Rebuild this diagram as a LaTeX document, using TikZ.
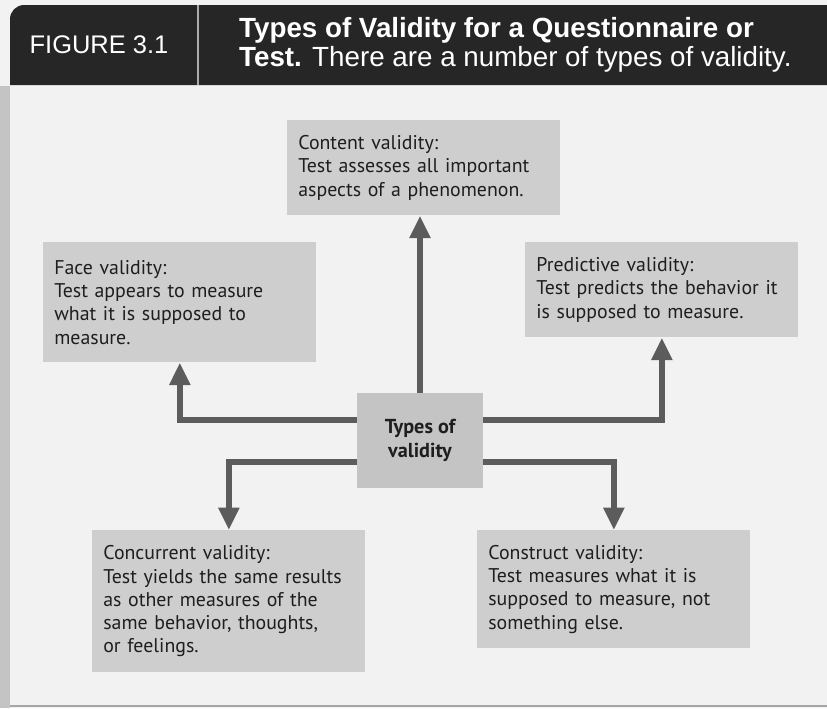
\documentclass[tikz,border=0pt]{standalone}
\usepackage{fontspec}
\setmainfont{PT Sans}
\newfontfamily\headfont{Liberation Sans}
\usetikzlibrary{positioning,arrows.meta}
\definecolor{hdrgray}{RGB}{38,38,38}
\definecolor{pagegray}{RGB}{242,242,242}
\definecolor{stripegray}{RGB}{196,196,196}
\definecolor{boxgray}{RGB}{206,206,206}
\definecolor{hubgray}{RGB}{196,196,196}
\definecolor{arrowgray}{RGB}{92,92,92}
\definecolor{inkgray}{RGB}{30,30,30}

\begin{document}
\begin{tikzpicture}[
    x=0.02cm, y=-0.02cm,
    vbox/.style={fill=boxgray, anchor=north west, inner xsep=0.22cm, inner ysep=0.2cm, text width=5.02cm, align=left, text=inkgray, font=\fontsize{11.3}{13.2}\selectfont},
    hub/.style={fill=hubgray, minimum width=2.52cm, minimum height=1.9cm, inner sep=2pt, align=center, text=inkgray, font=\fontsize{11.5}{13.6}\selectfont\bfseries},
    arrow/.style={-{Triangle[length=0.45cm, width=0.4cm]}, line width=0.12cm, draw=arrowgray}
]

% Page and header bar
\fill[pagegray] (0,0) rectangle (827,708);
\useasboundingbox (0,0) rectangle (827,708);
\fill[stripegray] (0,86) rectangle (10,708);
\draw[gray!70, line width=1.2pt] (10,706) -- (827,706);
\fill[hdrgray] (10,85) [rounded corners=8pt] -- (10,5) [sharp corners] -- (827,5) -- (827,85) -- cycle;
\draw[gray!65, line width=1.2pt] (198,5) -- (198,85);

\node[text=white, font=\headfont\fontsize{14.5}{14.5}\selectfont] (figlabel) at (99,45) {FIGURE 3.1};
\node[text=white, anchor=west, align=left, font=\headfont\fontsize{15.8}{16.8}\selectfont] (title) at (233,45)
    {\textbf{Types of Validity for a Questionnaire or}\\\textbf{Test.} There are a number of types of validity.};

% Hub
\node[hub] (types) at (420,440.5) {Types of\\validity};

% Validity boxes
\node[vbox, minimum height=1.9cm] (content) at (287,120) {Content validity:\\Test assesses all important\\aspects of a phenomenon.};
\node[vbox, minimum height=2.4cm] (face) at (43,242) {Face validity:\\Test appears to measure\\what it is supposed to\\measure.};
\node[vbox, minimum height=1.9cm] (predictive) at (525,242) {Predictive validity:\\Test predicts the behavior it\\is supposed to measure.};
\node[vbox, minimum height=2.84cm] (concurrent) at (92,530) {Concurrent validity:\\Test yields the same results\\as other measures of the\\same behavior, thoughts,\\or feelings.};
\node[vbox, minimum height=2.36cm] (construct) at (477,530) {Construct validity:\\Test measures what it is\\supposed to measure, not\\something else.};

% Arrows
\draw[arrow] (types.north) -- (types.north |- content.south);
\draw[arrow] ([yshift=0.41cm]types.west) -| (face.south);
\draw[arrow] ([yshift=0.41cm]types.east) -| (predictive.south);
\draw[arrow] ([yshift=-0.43cm]types.west) -| (concurrent.north);
\draw[arrow] ([yshift=-0.43cm]types.east) -| (construct.north);

\end{tikzpicture}
\end{document}
